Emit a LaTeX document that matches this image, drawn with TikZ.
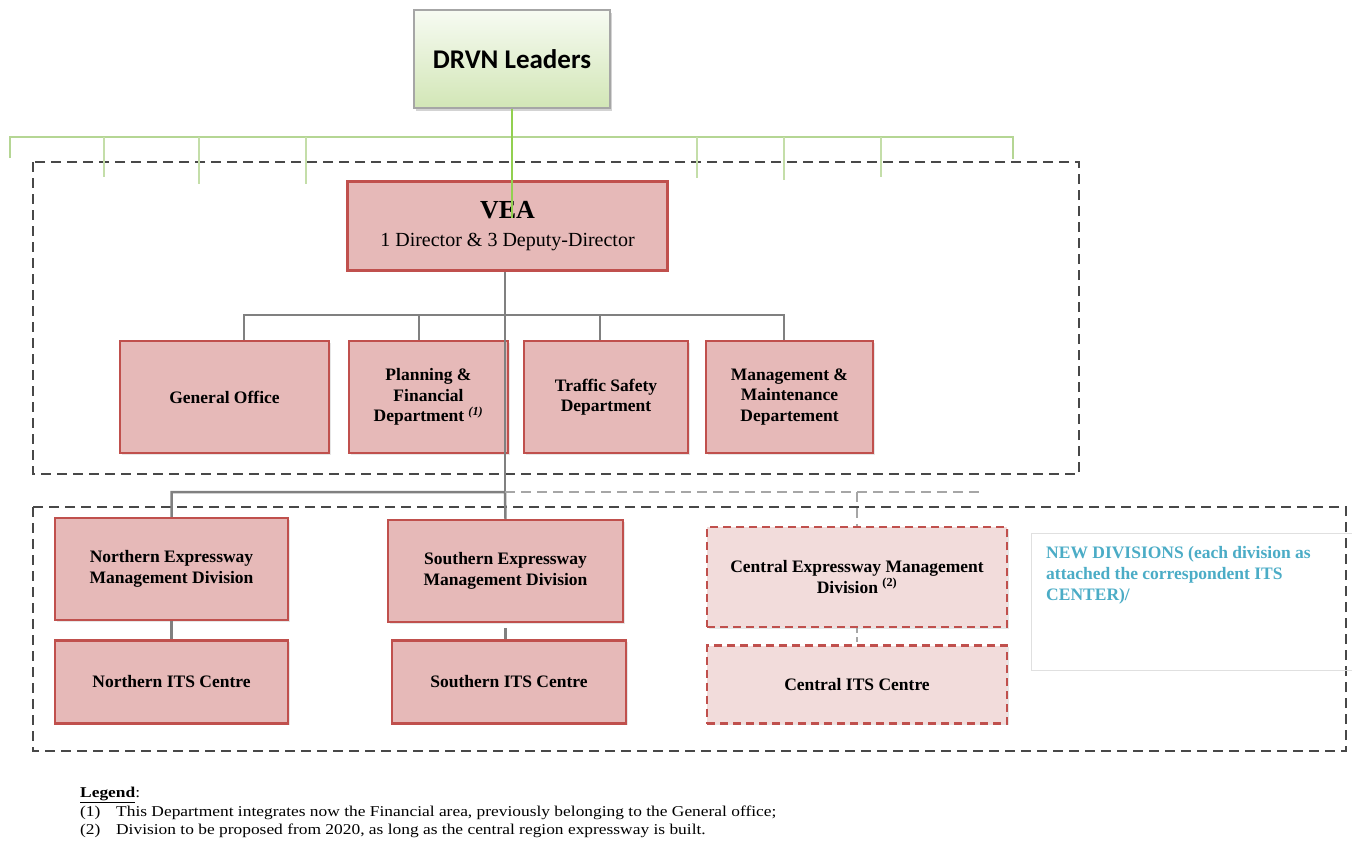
\documentclass[tikz,border=0pt]{standalone}
\usepackage{fontspec}
\setmainfont{Liberation Serif}
\newfontfamily\calibri{Carlito}
\newfontfamily\legendfont[FakeStretch=1.16]{Liberation Serif}
\usetikzlibrary{positioning,calc,shadows}
\definecolor{veared}{RGB}{192,80,77}
\definecolor{veafill}{RGB}{230,185,184}
\definecolor{newfill}{RGB}{242,220,219}
\definecolor{leadgreen}{RGB}{146,208,80}
\definecolor{busgreen}{RGB}{181,214,148}
\definecolor{framegray}{RGB}{72,72,72}
\definecolor{linkgray}{RGB}{128,128,128}
\definecolor{noteteal}{RGB}{75,172,198}

\begin{document}
\begin{tikzpicture}[
    x=1pt, y=-1pt,
    node distance=18pt,
    boxsize/.style 2 args={minimum width=#1pt, minimum height=#2pt},
    box/.style={rectangle, draw=veared, fill=veafill, line width=2.5pt, inner sep=0pt,
                align=center, font=\fontsize{17.5}{20.5}\selectfont\bfseries,
                drop shadow={shadow xshift=1.5pt, shadow yshift=-1.5pt, opacity=0.2}},
    newbox/.style={box, fill=newfill, dash pattern=on 8pt off 5pt},
    leadbox/.style={rectangle, draw=black!35, line width=1.2pt, inner sep=0pt,
                    top color=green!30!olive!5!white, bottom color={rgb,255:red,210;green,230;blue,182},
                    font=\calibri\fontsize{27}{27}\selectfont\bfseries,
                    drop shadow={shadow xshift=2pt, shadow yshift=-3pt, opacity=0.35}},
    frame/.style={draw=framegray, line width=2.5pt, dash pattern=on 10pt off 6pt},
    leadline/.style={draw=leadgreen, line width=1.8pt},
    leadbus/.style={draw=busgreen, line width=2.5pt},
    link/.style={draw=linkgray, line width=2.5pt},
    newlink/.style={draw=linkgray!70, line width=2.5pt, dash pattern=on 10pt off 6pt},
    note/.style={rectangle, draw=black!12, line width=0.8pt, inner sep=0pt},
    notetext/.style={text=noteteal, align=left, inner sep=0pt,
                     font=\fontsize{17.5}{21}\selectfont\bfseries},
    legend/.style={inner sep=0pt, anchor=base west, font=\legendfont\fontsize{15}{17}\selectfont}
]
\useasboundingbox (0,0) rectangle (1352,844);

% Group frames
\draw[frame] (33,162) rectangle (1079,474);
\draw[frame] (33,507) rectangle (1346,751);

% Top -- DRVN leaders
\node[leadbox, boxsize={196}{98}] (leaders) at (512,59) {DRVN Leaders};

% VEA and its departments
\node[box, boxsize={320}{89}] (vea) at (507.5,226)
    {{\fontsize{26}{26}\selectfont VEA}\\[8pt]{\fontsize{20}{24}\selectfont\mdseries 1 Director \& 3 Deputy-Director}};
\node[box, boxsize={209}{112}] (genoff)  at (224.5,397) {General Office};
\node[box, boxsize={159}{112}] (plan)    at (428.5,397) {Planning \&\\Financial\\Department \textsuperscript{\textit{(1)}}};
\node[box, boxsize={164}{112}] (traffic) at (606,397)   {Traffic Safety\\Department};
\node[box, boxsize={167}{112}] (maint)   at (789.5,397) {Management \&\\Maintenance\\Departement};

% Expressway management divisions
\node[box, boxsize={233}{102}] (north) at (171.5,569) {Northern Expressway\\Management Division};
\node[box, boxsize={233}{83}, below=of north] (northits) {Northern ITS Centre};
\node[box, boxsize={235}{102}] (south) at (505.5,571) {Southern Expressway\\Management Division};
\node[box, boxsize={234}{83}, below=16pt of south, xshift=3.5pt] (southits) {Southern ITS Centre};
\node[newbox, boxsize={300}{100}] (central) at (857,577) {Central Expressway Management\\Division \textsuperscript{(2)}};
\node[newbox, boxsize={300}{78}, below=16pt of central] (centralits) {Central ITS Centre};

% New divisions note
\node[note, boxsize={321}{137}] (newdiv) at (1191.5,601.5) {};
\node[notetext, anchor=north west] (newdivtext) at (1046,546)
    {NEW DIVISIONS (each division as\\attached the correspondent ITS\\CENTER)/};

% Coordinates for the buses
\coordinate (leadtail) at (512,218);
\coordinate (busL) at (10,137);
\coordinate (busR) at (1013,137);
\coordinate (deptbus) at (505,315);
\coordinate (divbus) at (505,492);
\coordinate (divend) at (982,492);

% DRVN leaders bus
\draw[leadbus] (busL |- 0,158) -- (busL) -- (busR) -- (busR |- 0,159);
\foreach \x/\e in {104/177, 199/184, 306/184, 697/178, 784/180, 881/177}
    \draw[leadbus, line width=2pt, draw=busgreen!80] (\x,137) -- (\x,\e);
\draw[leadline] (leaders.south) -- (leadtail);

% VEA to departments
\draw[link] (deptbus |- vea.south) -- (deptbus);
\draw[link] (244,0 |- genoff.north) |- (deptbus) -| (784,0 |- maint.north);
\draw[link] (419,0 |- plan.north) -- (419,0 |- deptbus);
\draw[link] (600,0 |- traffic.north) -- (600,0 |- deptbus);

% VEA to divisions
\draw[link] (deptbus) -- (divbus);
\draw[link] (north.north) |- (divbus) -- (south.north);
\draw[newlink] (divbus) -- (divend);
\draw[newlink] (857,0 |- divbus) -- (central.north);

% Divisions to ITS centres
\draw[link] (north.south) -- (northits.north);
\draw[link] (south.south |- 0,628) -- (south.south |- southits.north);
\draw[newlink, dash pattern=on 5pt off 4pt] (central.south) -- (centralits.north);

% Legend
\node[legend] (legendhead) at (80,797) {\underline{\textbf{Legend}}:};
\node[legend] (legendone)  at (80,816) {\makebox[36pt][l]{(1)}This Department integrates now the Financial area, previously belonging to the General office;};
\node[legend] (legendtwo)  at (80,834) {\makebox[36pt][l]{(2)}Division to be proposed from 2020, as long as the central region expressway is built.};

\end{tikzpicture}
\end{document}
